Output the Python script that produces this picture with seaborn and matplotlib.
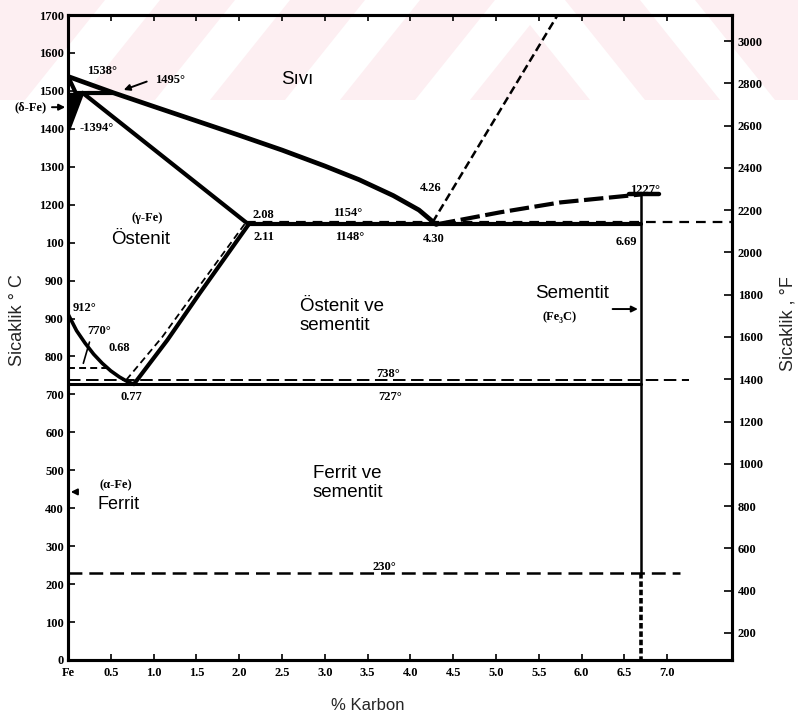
import matplotlib
matplotlib.use("Agg")
import matplotlib.pyplot as plt
import seaborn as sns
from matplotlib.patches import Polygon, Rectangle

# ---------------------------------------------------------------
# Fe - Fe3C phase boundaries: composition (% C) and temperature (°C)
# ---------------------------------------------------------------
liquidus_c = [0.0, 0.53, 1.0, 1.5, 2.0, 2.5, 3.0, 3.4, 3.8, 4.1, 4.30]
liquidus_t = [1538, 1495, 1459, 1421, 1383, 1344, 1302, 1266, 1224, 1186, 1148]

solidus_c = [0.17, 2.11]
solidus_t = [1495, 1148]

delta_wedge_c = [0.0, 0.17, 0.0]
delta_wedge_t = [1495, 1495, 1394]
delta_a_c = [0.09, 0.0]
delta_a_t = [1495, 1394]
delta_b_c = [0.17, 0.0]
delta_b_t = [1495, 1394]
delta_top_c = [0.0, 0.09]
delta_top_t = [1538, 1495]
peritectic_c = [0.09, 0.53]
peritectic_t = [1495, 1495]

a3_c = [0.0, 0.1, 0.2, 0.3, 0.4, 0.5, 0.6, 0.7, 0.77]
a3_t = [912, 868, 835, 806, 782, 762, 746, 733, 727]

acm_c = [0.77, 1.16, 1.54, 2.11]
acm_t = [727, 843, 967, 1148]

acm_graphite_c = [0.68, 1.10, 1.50, 2.08]
acm_graphite_t = [738, 851, 975, 1154]

eutectic_c = [2.11, 6.69]
eutectic_t = [1148, 1148]
eutectic_graphite_c = [2.08, 7.75]
eutectic_graphite_t = [1154, 1154]

liq_graphite_c = [4.26, 5.72]
liq_graphite_t = [1154, 1700]

liq_cementite_c = [4.30, 5.05, 5.75, 6.69]
liq_cementite_t = [1148, 1180, 1206, 1227]
cementite_melt_c = [6.55, 6.90]
cementite_melt_t = [1227, 1227]

eutectoid_c = [0.0, 6.69]
eutectoid_t = [727, 727]
eutectoid_graphite_c = [0.0, 7.25]
eutectoid_graphite_t = [738, 738]

curie_c = [0.0, 0.45]
curie_t = [770, 770]

cementite_curie_c = [0.0, 7.15]
cementite_curie_t = [230, 230]

fe3c_upper_c = [6.69, 6.69]
fe3c_upper_t = [1227, 230]
fe3c_lower_c = [6.69, 6.69]
fe3c_lower_t = [230, 0]

# axis ticks and labels
x_ticks = [0.0, 0.5, 1.0, 1.5, 2.0, 2.5, 3.0, 3.5, 4.0, 4.5, 5.0, 5.5, 6.0, 6.5, 7.0]
x_labels = ["Fe", "0.5", "1.0", "1.5", "2.0", "2.5", "3.0", "3.5", "4.0",
            "4.5", "5.0", "5.5", "6.0", "6.5", "7.0"]
c_ticks = list(range(0, 1701, 100))
c_labels = ["0", "100", "200", "300", "400", "500", "600", "700", "800", "900",
            "900", "100", "1200", "1300", "1400", "1500", "1600", "1700"]
f_ticks = list(range(200, 3001, 200))
f_labels = [str(v) for v in f_ticks]

# ---------------------------------------------------------------
sns.set_theme(style="ticks")
plt.rcParams["font.family"] = ["Liberation Sans", "DejaVu Sans"]
plt.rcParams["lines.scale_dashes"] = False

W, H = 798, 718
fig = plt.figure(figsize=(W / 100, H / 100), dpi=100, facecolor="white")


def fxy(px, py):
    return (px / W, 1 - py / H)


# faint pink chevron band across the top of the page
pink = "#fdeff2"
fig.patches.append(Rectangle(fxy(0, 100), 1.0, 100 / H, transform=fig.transFigure,
                             facecolor=pink, edgecolor="none", zorder=-20))
for b in [25, 155, 285, 415]:
    pts = [fxy(b, 100), fxy(b + 55, 100), fxy(b + 135, 0), fxy(b + 80, 0)]
    fig.patches.append(Polygon(pts, closed=True, transform=fig.transFigure,
                               facecolor="white", edgecolor="none", zorder=-19))
for b in [645, 775]:
    pts = [fxy(b, 100), fxy(b - 55, 100), fxy(b - 135, 0), fxy(b - 80, 0)]
    fig.patches.append(Polygon(pts, closed=True, transform=fig.transFigure,
                               facecolor="white", edgecolor="none", zorder=-19))

ax = fig.add_axes([68 / W, 1 - 660 / H, (732 - 68) / W, (660 - 15) / H])
ax.set_facecolor("none")


def trace(x, y, lw, ls="-"):
    sns.lineplot(x=x, y=y, sort=False, estimator=None, color="black",
                 linewidth=lw, linestyle=ls, ax=ax)


ax.fill(delta_wedge_c, delta_wedge_t, color="black", linewidth=0)
trace(liquidus_c, liquidus_t, 3.4)
trace(solidus_c, solidus_t, 3.0)
trace(delta_top_c, delta_top_t, 3.0)
trace(delta_a_c, delta_a_t, 2.6)
trace(delta_b_c, delta_b_t, 2.6)
trace(peritectic_c, peritectic_t, 3.0)
trace(a3_c, a3_t, 2.6)
trace(acm_c, acm_t, 3.0)
trace(acm_graphite_c, acm_graphite_t, 1.3, (0, (5, 3)))
trace(eutectic_c, eutectic_t, 3.0)
trace(eutectic_graphite_c, eutectic_graphite_t, 1.6, (0, (7, 5)))
trace(liq_graphite_c, liq_graphite_t, 1.8, (0, (6, 3)))
trace(liq_cementite_c, liq_cementite_t, 3.0, (0, (14, 4)))
trace(cementite_melt_c, cementite_melt_t, 3.2)
trace(eutectoid_c, eutectoid_t, 2.2)
trace(eutectoid_graphite_c, eutectoid_graphite_t, 1.4, (0, (9, 4)))
trace(curie_c, curie_t, 1.4, (0, (5, 3)))
trace(cementite_curie_c, cementite_curie_t, 1.8, (0, (10, 5)))
trace(fe3c_upper_c, fe3c_upper_t, 1.8)
trace(fe3c_lower_c, fe3c_lower_t, 2.6, (0, (4, 2)))

ax.set_xlim(0, 7.757)
ax.set_ylim(0, 1700)
ax.set_xlabel("")
ax.set_ylabel("")

tick_font = dict(family=["Liberation Serif", "DejaVu Serif"], weight="bold", size=9)
ax.set_xticks(x_ticks)
ax.set_xticklabels(x_labels, fontdict=tick_font)
ax.set_yticks(c_ticks)
ax.set_yticklabels(c_labels, fontdict=tick_font)
ax.xaxis.set_ticks_position("both")
ax.tick_params(axis="x", direction="in", length=4, width=1.2, pad=5, colors="black")
ax.tick_params(axis="y", direction="in", length=5, width=1.2, pad=3, colors="black")
for s in ax.spines.values():
    s.set_linewidth(2.2)
    s.set_color("black")

ax2 = ax.twinx()
ax2.set_ylim(72, 3123)
ax2.set_yticks(f_ticks)
ax2.set_yticklabels(f_labels, fontdict=tick_font)
ax2.tick_params(axis="y", direction="in", length=6, width=1.2, pad=4, colors="black")
for s in ax2.spines.values():
    s.set_linewidth(2.2)
    s.set_color("black")
ax2.grid(False)

# region names
big = dict(fontsize=13.5, color="black")
ax.text(2.68, 1529, "Sıvı", ha="center", va="center", **big)
ax.text(0.85, 1107, "Östenit", ha="center", va="center", **big)
ax.text(2.71, 907, "Östenit ve\nsementit", ha="left", va="center", linespacing=1.15, **big)
ax.text(5.46, 967, "Sementit", ha="left", va="center", **big)
ax.text(2.86, 467, "Ferrit ve\nsementit", ha="left", va="center", linespacing=1.15, **big)
ax.text(0.34, 409, "Ferrit", ha="left", va="center", fontsize=13, color="black")

# point values
small = dict(family=["Liberation Serif", "DejaVu Serif"], weight="bold", fontsize=9,
             color="black", va="center")
ax.text(0.22, 1552, "1538°", ha="left", **small)
ax.text(1.02, 1529, "1495°", ha="left", **small)
ax.text(0.14, 1402, "-1394°", ha="left", **small)
ax.text(0.92, 1165, "(γ-Fe)", ha="center", **small)
ax.text(2.15, 1173, "2.08", ha="left", **small)
ax.text(2.17, 1115, "2.11", ha="left", **small)
ax.text(3.10, 1178, "1154°", ha="left", **small)
ax.text(3.12, 1115, "1148°", ha="left", **small)
ax.text(4.11, 1244, "4.26", ha="left", **small)
ax.text(4.15, 1110, "4.30", ha="left", **small)
ax.text(6.65, 1102, "6.69", ha="right", **small)
ax.text(6.57, 1239, "1227°", ha="left", **small)
ax.text(5.54, 904, "(Fe₃C)", ha="left", **small)
ax.text(0.05, 928, "912°", ha="left", **small)
ax.text(0.23, 867, "770°", ha="left", **small)
ax.text(0.47, 822, "0.68", ha="left", **small)
ax.text(0.61, 693, "0.77", ha="left", **small)
ax.text(3.60, 754, "738°", ha="left", **small)
ax.text(3.62, 693, "727°", ha="left", **small)
ax.text(3.56, 245, "230°", ha="left", **small)
ax.text(0.37, 461, "(α-Fe)", ha="left", **small)
ax.text(-0.63, 1457, "(δ-Fe)", ha="left", clip_on=False, **small)

# leader arrows
arrow = dict(arrowstyle="-|>", color="black", lw=1.4, mutation_scale=9)
ax.annotate("", xy=(0.62, 1500), xytext=(0.95, 1527), arrowprops=arrow)
ax.annotate("", xy=(6.69, 925), xytext=(6.33, 925), arrowprops=arrow)
ax.annotate("", xy=(0.0, 1457), xytext=(-0.22, 1457), arrowprops=arrow,
            annotation_clip=False)
ax.annotate("", xy=(0.0, 443), xytext=(0.14, 443), arrowprops=arrow)
ax.annotate("", xy=(0.17, 775), xytext=(0.26, 845),
            arrowprops=dict(arrowstyle="-", color="black", lw=1.2))

# axis titles
fig.text(368 / W, 1 - 705 / H, "% Karbon", ha="center", va="center", fontsize=12)
fig.text(18 / W, 1 - 320 / H, "Sicaklik ° C", rotation=90, ha="center", va="center",
         fontsize=13)
fig.text(788 / W, 1 - 324 / H, "Sicaklik , °F", rotation=90, ha="center", va="center",
         fontsize=13)

fig.savefig("out.png", dpi=100, facecolor="white")
